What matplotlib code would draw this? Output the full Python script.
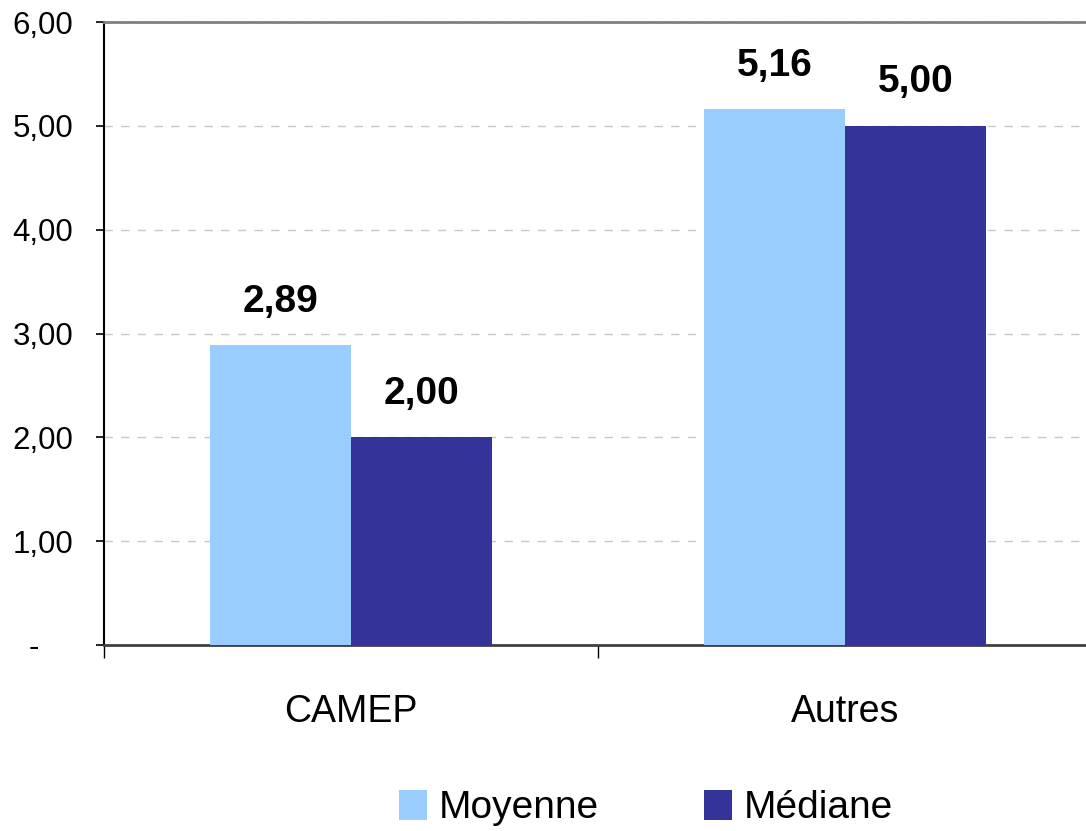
import numpy as np
import matplotlib.pyplot as plt
from matplotlib.ticker import FixedLocator, FuncFormatter

categories = ['CAMEP', 'Autres']
moyenne = [2.89, 5.16]
mediane = [2.00, 5.00]
series_names = ['Moyenne', 'Médiane']
colors = ['#99CCFF', '#333399']

plt.rcParams['font.family'] = ['Liberation Sans', 'DejaVu Sans']


def fmt_fr(v, pos=None):
    if abs(v) < 1e-9:
        return '-    '
    return f'{v:.2f}'.replace('.', ',')


def main():
    fig = plt.figure(figsize=(10.86, 8.31), dpi=100)
    ax = fig.add_axes([104 / 1086, 1 - 645 / 831, 988 / 1086, 623 / 831])

    x = np.arange(len(categories))
    w = 0.285
    b1 = ax.bar(x - w / 2, moyenne, w, color=colors[0], label=series_names[0], zorder=3)
    b2 = ax.bar(x + w / 2, mediane, w, color=colors[1], label=series_names[1], zorder=3)

    for bars, vals in ((b1, moyenne), (b2, mediane)):
        for rect, v in zip(bars, vals):
            ax.annotate(fmt_fr(v), (rect.get_x() + rect.get_width() / 2, v),
                        xytext=(0, 24), textcoords='offset points',
                        ha='center', va='baseline', fontsize=28, fontweight='bold')

    ax.set_xlim(-0.5, 1.5)
    ax.set_ylim(0, 6)
    ax.set_yticks(np.arange(0, 7, 1))
    ax.yaxis.set_major_formatter(FuncFormatter(fmt_fr))
    ax.tick_params(axis='y', labelsize=22.5, length=6, width=1.2, pad=16, direction='out')

    # category labels centred, tick marks between categories
    ax.set_xticks(x)
    ax.set_xticklabels(categories)
    ax.tick_params(axis='x', which='major', length=0, labelsize=27, pad=35)
    ax.xaxis.set_minor_locator(FixedLocator([-0.5, 0.5, 1.5]))
    ax.tick_params(axis='x', which='minor', length=9, width=1, direction='out')

    ax.grid(axis='y', color='#c8c8c8', linestyle=(0, (6, 6)), linewidth=1, zorder=0)

    ax.spines['left'].set_color('black')
    ax.spines['left'].set_linewidth(1.5)
    ax.spines['bottom'].set_color('#404040')
    ax.spines['bottom'].set_linewidth(2)
    ax.spines['top'].set_color('#808080')
    ax.spines['top'].set_linewidth(2)
    ax.spines['right'].set_visible(False)

    fig.legend(handles=[b1, b2], labels=series_names, loc='center',
               bbox_to_anchor=(646 / 1086, 1 - 808 / 831), ncol=2, frameon=False,
               fontsize=28, handlelength=0.72, handleheight=0.8,
               handletextpad=0.3, columnspacing=2.7)

    fig.savefig('out.png', dpi=100)


if __name__ == '__main__':
    main()
